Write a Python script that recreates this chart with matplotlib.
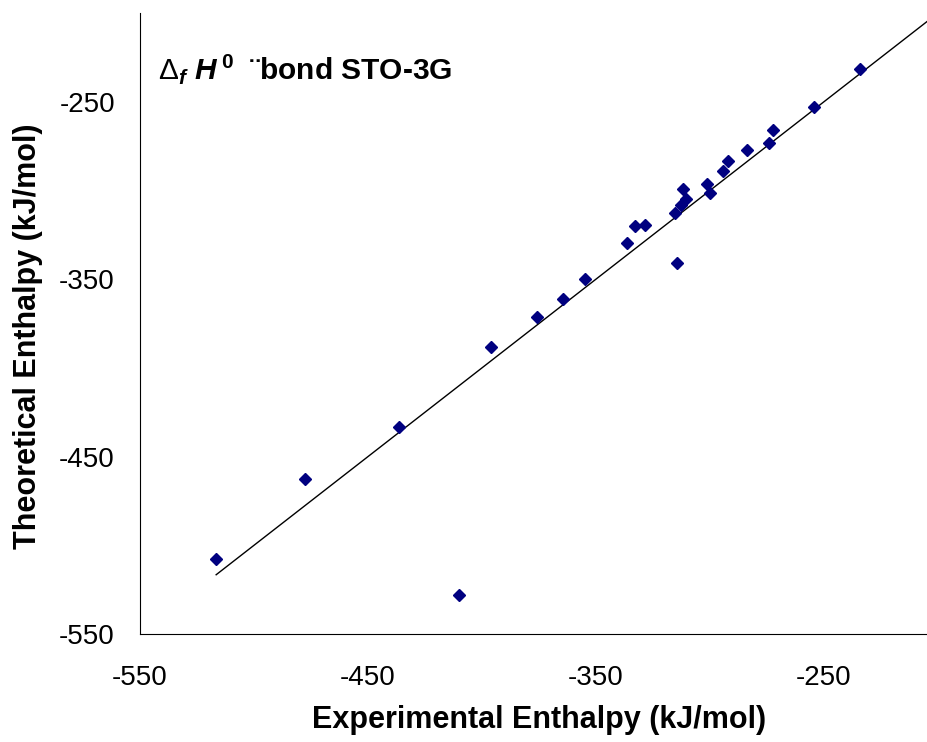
import numpy as np
import matplotlib.pyplot as plt

plt.rcParams['font.family'] = ['Liberation Sans', 'DejaVu Sans']
plt.rcParams['axes.unicode_minus'] = False
plt.rcParams['mathtext.fontset'] = 'custom'
plt.rcParams['mathtext.rm'] = 'Liberation Sans'
plt.rcParams['mathtext.it'] = 'Liberation Sans:italic:bold'
plt.rcParams['mathtext.bf'] = 'Liberation Sans:bold'

# experimental vs theoretical enthalpy (kJ/mol)
experimental = [-516.6, -477.8, -436.6, -410.2, -396.2, -376.0, -364.4, -354.9,
                -336.3, -332.9, -328.3, -315.2, -314.5, -312.8, -310.6, -311.7,
                -301.4, -300.2, -294.2, -292.3, -283.6, -274.1, -272.3, -254.6,
                -234.4]
theoretical = [-507.7, -462.6, -433.1, -528.0, -388.1, -371.2, -361.1, -349.8,
               -329.5, -320.3, -319.5, -312.6, -340.8, -308.2, -304.8, -299.0,
               -296.6, -301.4, -288.9, -283.2, -277.4, -273.2, -266.1, -252.8,
               -231.3]

# y = x reference line
line_x = [min(experimental), -200]
line_y = line_x

tick_vals = [-550, -450, -350, -250]

fig = plt.figure(figsize=(9.28, 7.42), dpi=100)
ax = fig.add_axes([140 / 928, 108 / 742, 798 / 928, 621 / 742])

ax.plot(line_x, line_y, color='black', linewidth=1)
ax.plot(experimental, theoretical, linestyle='none', marker='D',
        markersize=6.5, color='#000080')

ax.set_xlim(-550, -200)
ax.set_ylim(-550, -200)
ax.set_xticks(tick_vals)
ax.set_yticks(tick_vals)
ax.tick_params(length=0, labelsize=20)
ax.tick_params(axis='x', pad=22)
ax.tick_params(axis='y', pad=18)
ax.spines['top'].set_visible(False)
ax.spines['right'].set_visible(False)

ax.set_xlabel('Experimental Enthalpy (kJ/mol)', fontsize=22, fontweight='bold')
ax.set_ylabel('Theoretical Enthalpy (kJ/mol)', fontsize=22, fontweight='bold')
ax.xaxis.set_label_coords(0.5, -0.115)
ax.yaxis.set_label_coords(-0.122, 0.48)

ax.text(0.022, 0.91, r'$\mathrm{\Delta}_{f}\,\,H^{\,\mathbf{0}}\;$ ¨bond STO-3G',
        transform=ax.transAxes, fontsize=21.5, fontweight='bold',
        va='center', ha='left')

fig.savefig('out.png', dpi=100)
